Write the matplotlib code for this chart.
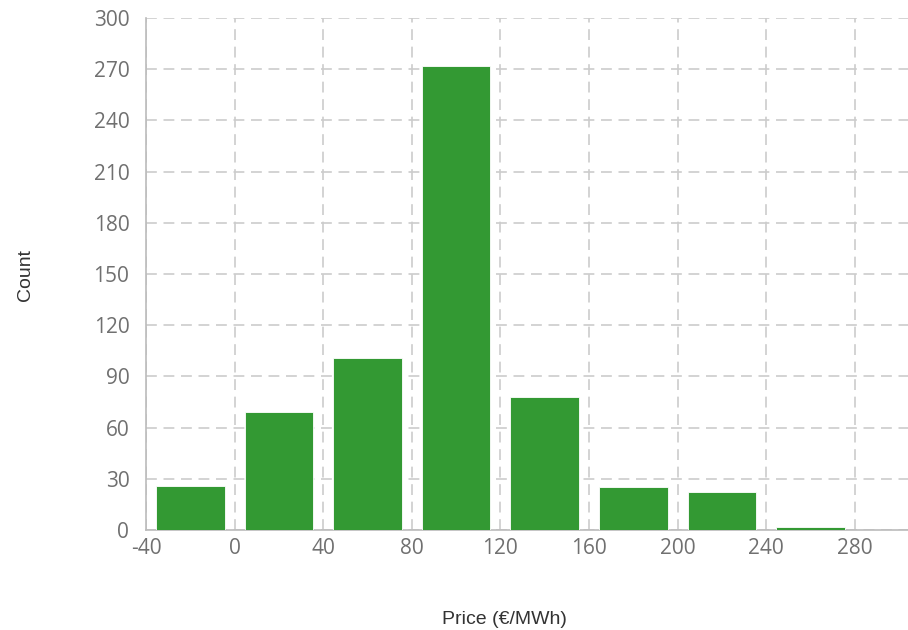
import numpy as np
import matplotlib.pyplot as plt

# ── Data ──────────────────────────────────────────────────────────────────────
bin_edges = [-40, 0, 40, 80, 120, 160, 200, 240, 280]
counts    = [26, 69, 101, 272, 78, 25, 22, 2]
x_ticks   = [-40, 0, 40, 80, 120, 160, 200, 240, 280]
y_ticks   = [0, 30, 60, 90, 120, 150, 180, 210, 240, 270, 300]

plt.rcParams['axes.unicode_minus'] = False

# ── Plot ──────────────────────────────────────────────────────────────────────
fig = plt.figure(figsize=(9.08, 6.3), dpi=100)
ax = fig.add_axes([0.1608, 0.1587, 0.8392, 0.8127])

edges   = np.array(bin_edges, dtype=float)
centers = (edges[:-1] + edges[1:]) / 2
ax.bar(centers, counts, width=31, color='#339933', edgecolor='white',
       linewidth=0.6, zorder=3)

ax.set_xlim(-40, 304)
ax.set_ylim(0, 300)
ax.set_xticks(x_ticks)
ax.set_yticks(y_ticks)

ax.grid(True, color='#cccccc', linestyle=(0, (6.5, 4)), linewidth=1.2, zorder=0)
for s in ['top', 'right']:
    ax.spines[s].set_visible(False)
for s in ['left', 'bottom']:
    ax.spines[s].set_color('#bbbbbb')
    ax.spines[s].set_linewidth(1.2)

ax.tick_params(axis='both', length=0, labelcolor='#707070', labelsize=15)
ax.tick_params(axis='y', pad=12)
ax.tick_params(axis='x', pad=6)
for lbl in ax.get_xticklabels() + ax.get_yticklabels():
    lbl.set_family('Open Sans')

fig.text(0.5556, 0.016, 'Price (€/MWh)', ha='center', va='center',
         fontsize=14, family='Liberation Sans', color='#333333')
fig.text(0.028, 0.563, 'Count', ha='center', va='center', rotation=90,
         fontsize=14, family='Liberation Sans', color='#333333')

fig.savefig('out.png', dpi=100)
